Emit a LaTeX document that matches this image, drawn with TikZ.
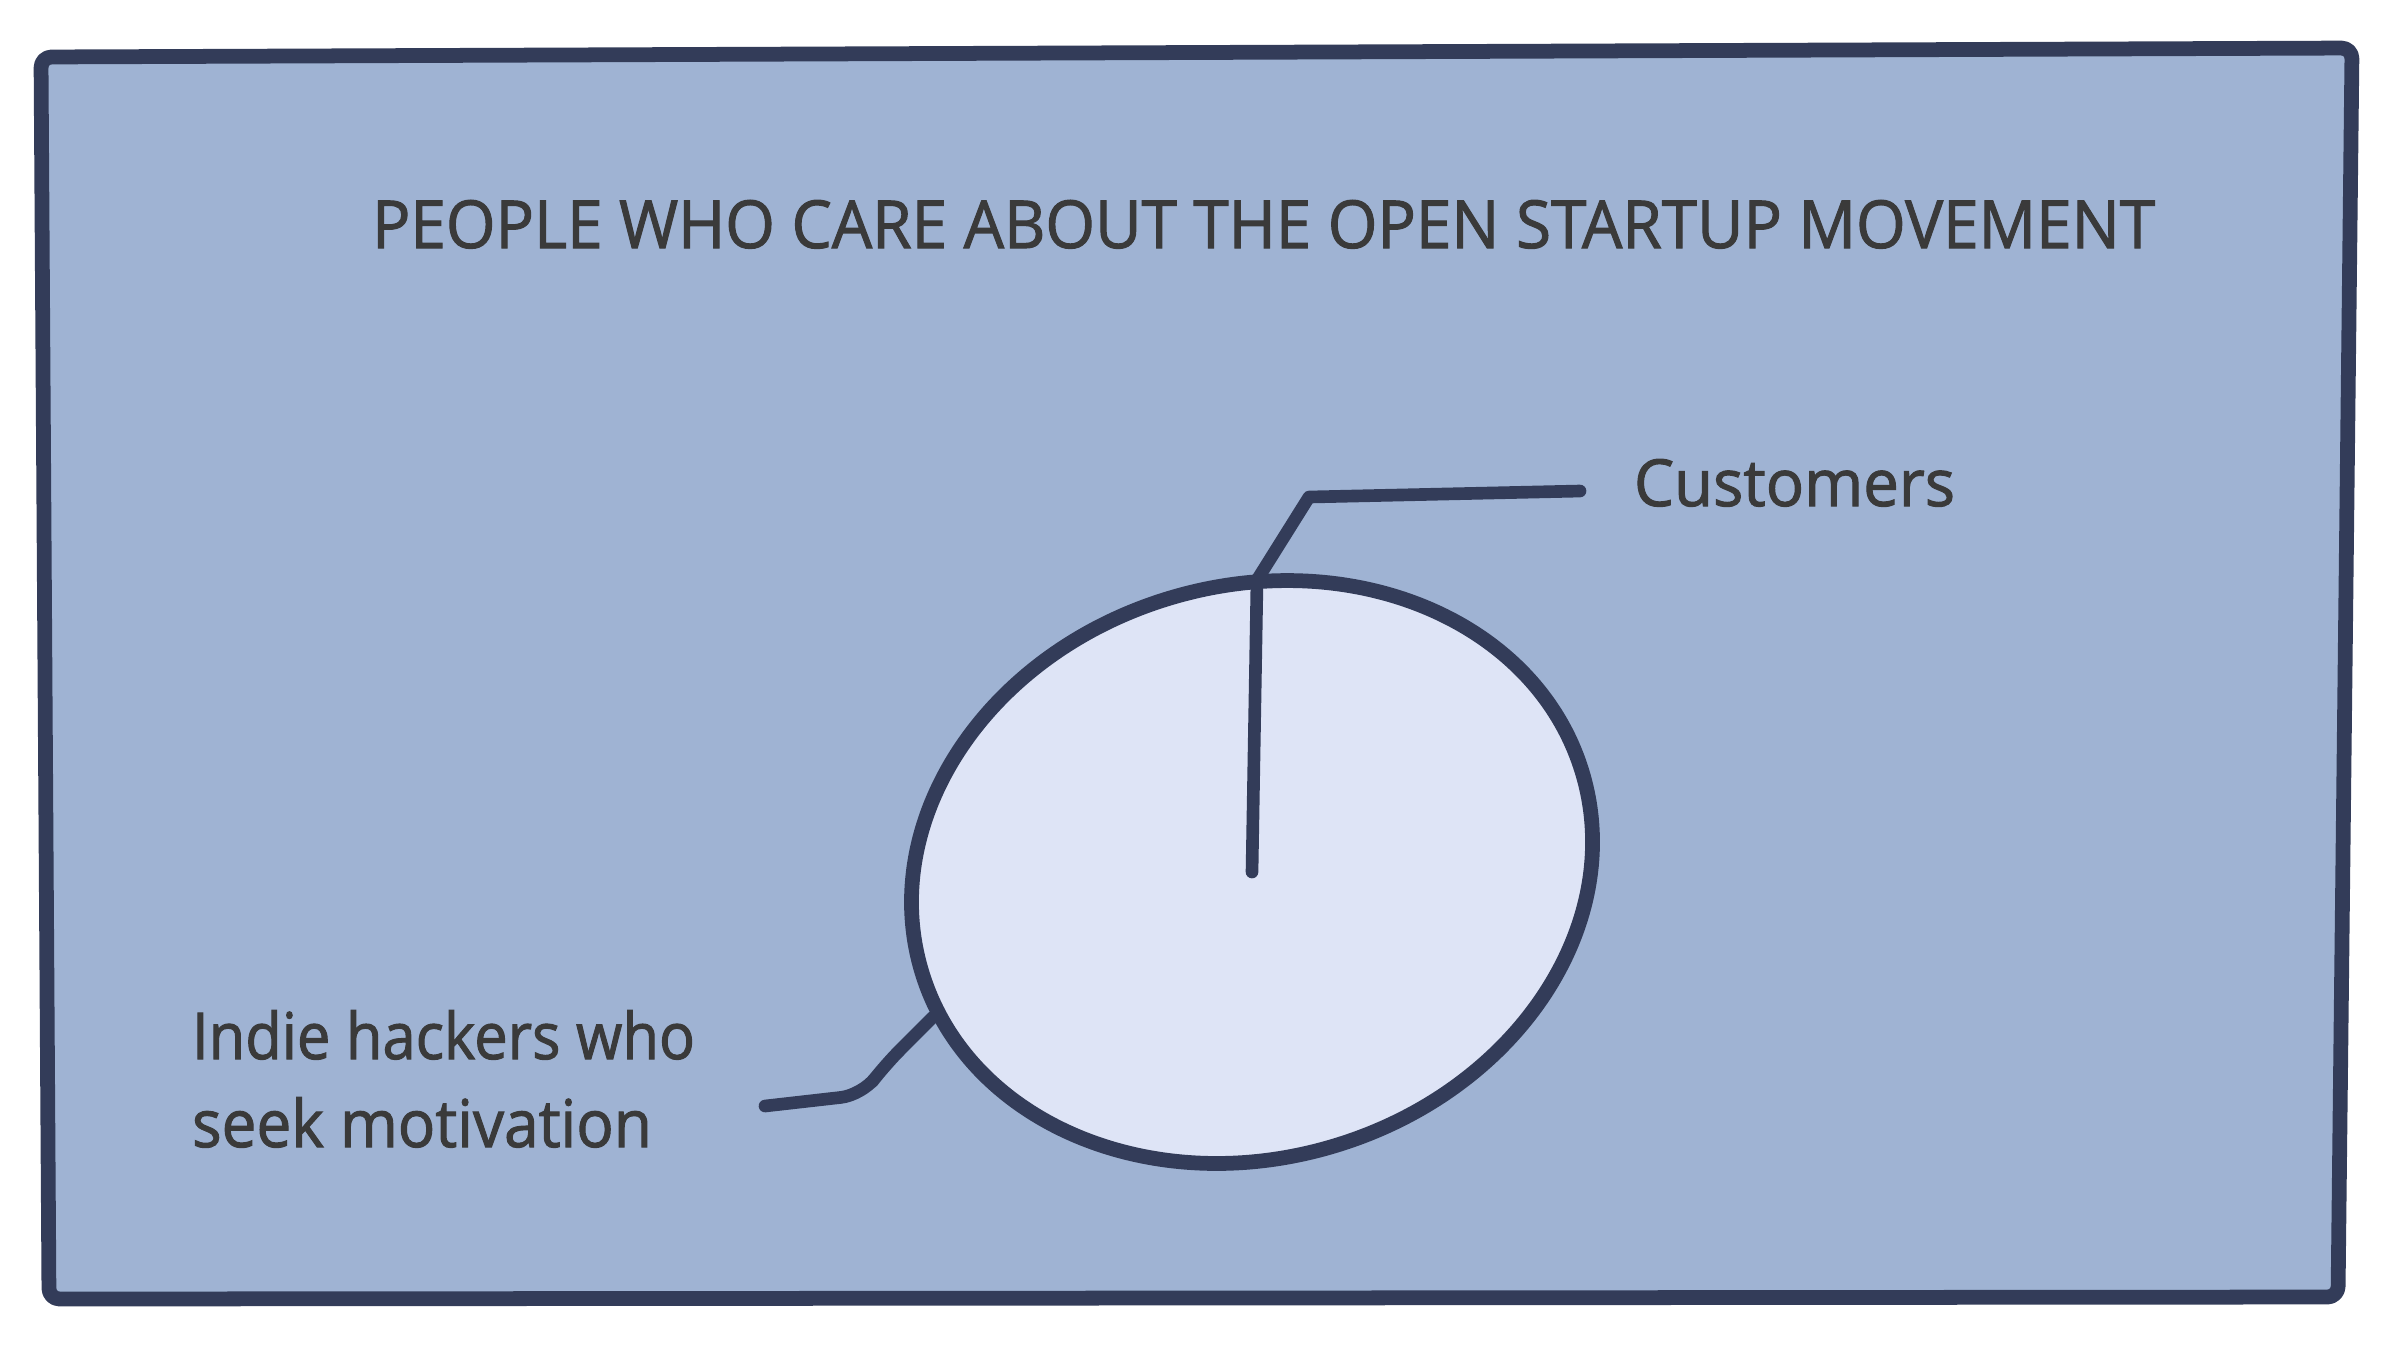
\documentclass[tikz,border=0pt]{standalone}
\usepackage{fontspec}
\setmainfont{Open Sans}
\newfontfamily\handfont{Open Sans}[RawFeature={embolden=1.6}]
\usepackage{graphicx}
\usetikzlibrary{shapes.geometric}
\definecolor{bgblue}{HTML}{9FB3D3}
\definecolor{inkblue}{HTML}{333C59}
\definecolor{palefill}{HTML}{DEE4F6}
\definecolor{txtgray}{HTML}{3A3A3A}
\tikzset{
  framebox/.style={draw=inkblue, fill=bgblue, line width=4.2pt, line join=round, rounded corners=3pt},
  setcircle/.style={ellipse, draw=inkblue, fill=palefill, line width=4.2pt, inner sep=0pt, outer sep=0pt},
  leader/.style={draw=inkblue, line width=3.6pt, line cap=round, line join=round},
  lbl/.style={inner sep=0pt, outer sep=0pt, text=txtgray, font=\handfont}
}
\begin{document}
\begin{tikzpicture}
\useasboundingbox (0,0) rectangle (24,-13.5);
\fill[white] (0,0) rectangle (24,-13.5);
% frame
\path[framebox] (0.41,-0.57) -- (23.52,-0.48) -- (23.38,-12.97) -- (0.49,-12.99) -- cycle;
% title
\node[lbl, anchor=base west] (title) at (3.72,-2.48)
  {\resizebox{17.83cm}{0.48cm}{PEOPLE WHO CARE ABOUT THE OPEN STARTUP MOVEMENT}};
% set
\node[setcircle, minimum width=6.9cm, minimum height=5.72cm, rotate=16.8] (ell) at (12.52,-8.72) {};
% labels
\node[lbl, anchor=base west] (cust) at (16.34,-5.06)
  {\resizebox{3.21cm}{0.47cm}{Customers}};
\node[lbl, anchor=base west] (indie) at (1.92,-10.59)
  {\vtop{\baselineskip=0.88cm\hbox{\resizebox{5.03cm}{0.49cm}{Indie hackers who}}\hbox{\resizebox{4.60cm}{0.50cm}{seek motivation}}}};
% leaders
\coordinate (custend) at (15.80,-4.91);
\coordinate (indieend) at (7.65,-11.06);
\coordinate (indietouch) at (9.33,-10.17);
\draw[leader] (ell.center) -- (12.57,-5.80) -- (13.09,-4.97) -- (custend);
\draw[leader, rounded corners=6pt] (indieend) -- (8.62,-10.95) -- (8.85,-10.65) -- (indietouch);
\end{tikzpicture}
\end{document}
